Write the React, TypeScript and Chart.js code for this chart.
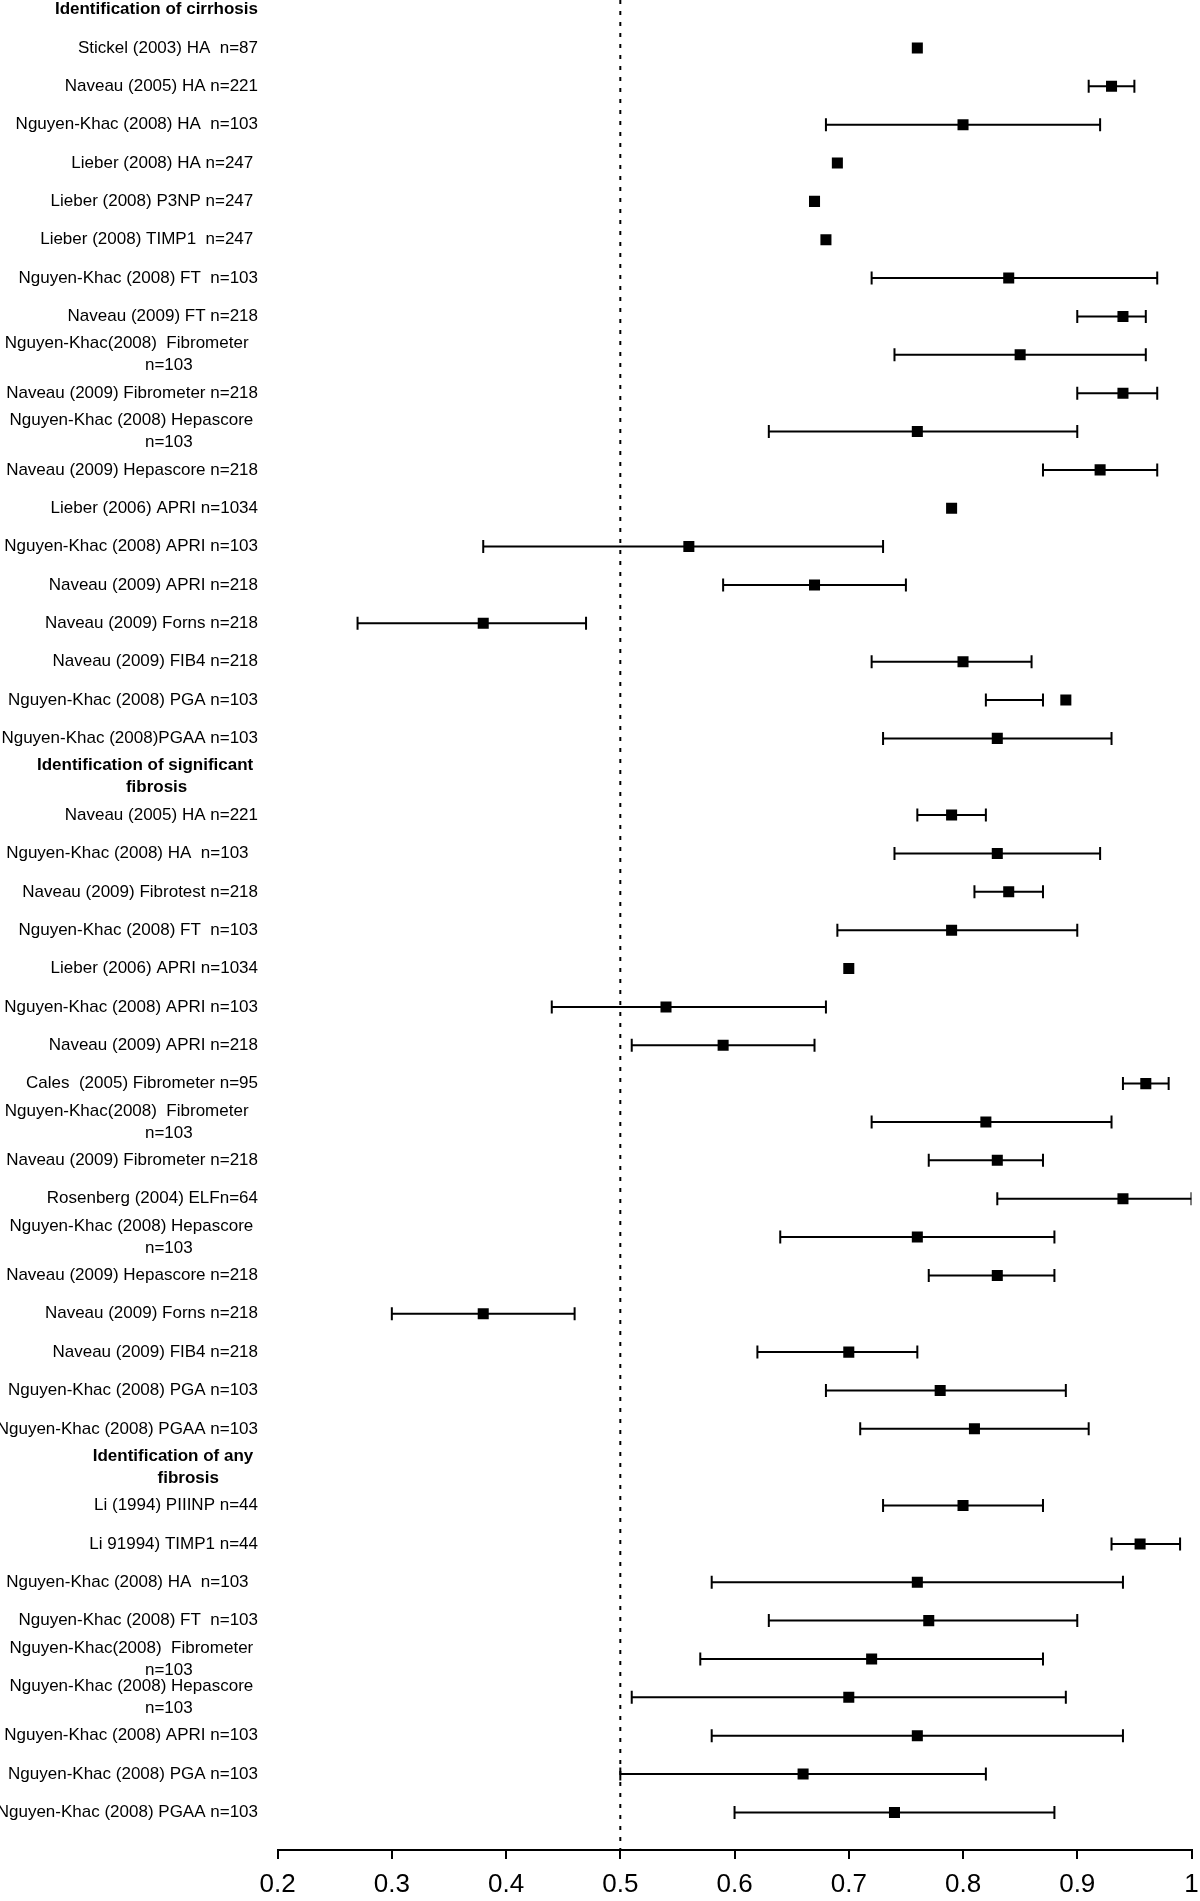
import React, { useEffect, useRef } from "react";
import { Chart, registerables } from "chart.js";

Chart.register(...registerables);

// ---------- data ----------
const LABELS: string[] = [
  "Identification of cirrhosis",
  "Stickel (2003) HA  n=87",
  "Naveau (2005) HA n=221",
  "Nguyen-Khac (2008) HA  n=103",
  "Lieber (2008) HA n=247 ",
  "Lieber (2008) P3NP n=247 ",
  "Lieber (2008) TIMP1  n=247 ",
  "Nguyen-Khac (2008) FT  n=103",
  "Naveau (2009) FT n=218",
  "Nguyen-Khac(2008)  Fibrometer  \nn=103",
  "Naveau (2009) Fibrometer n=218",
  "Nguyen-Khac (2008) Hepascore \nn=103",
  "Naveau (2009) Hepascore n=218",
  "Lieber (2006) APRI n=1034",
  "Nguyen-Khac (2008) APRI n=103",
  "Naveau (2009) APRI n=218",
  "Naveau (2009) Forns n=218",
  "Naveau (2009) FIB4 n=218",
  "Nguyen-Khac (2008) PGA n=103",
  "Nguyen-Khac (2008)PGAA n=103",
  "Identification of significant \nfibrosis",
  "Naveau (2005) HA n=221",
  "Nguyen-Khac (2008) HA  n=103  ",
  "Naveau (2009) Fibrotest n=218",
  "Nguyen-Khac (2008) FT  n=103",
  "Lieber (2006) APRI n=1034",
  "Nguyen-Khac (2008) APRI n=103",
  "Naveau (2009) APRI n=218",
  "Cales  (2005) Fibrometer n=95",
  "Nguyen-Khac(2008)  Fibrometer  \nn=103",
  "Naveau (2009) Fibrometer n=218",
  "Rosenberg (2004) ELFn=64",
  "Nguyen-Khac (2008) Hepascore \nn=103",
  "Naveau (2009) Hepascore n=218",
  "Naveau (2009) Forns n=218",
  "Naveau (2009) FIB4 n=218",
  "Nguyen-Khac (2008) PGA n=103",
  "Nguyen-Khac (2008) PGAA n=103",
  "Identification of any \nfibrosis",
  "Li (1994) PIIINP n=44",
  "Li 91994) TIMP1 n=44",
  "Nguyen-Khac (2008) HA  n=103  ",
  "Nguyen-Khac (2008) FT  n=103",
  "Nguyen-Khac(2008)  Fibrometer \nn=103",
  "Nguyen-Khac (2008) Hepascore \nn=103",
  "Nguyen-Khac (2008) APRI n=103",
  "Nguyen-Khac (2008) PGA n=103",
  "Nguyen-Khac (2008) PGAA n=103",
];

const HEADER_ROWS: number[] = [0, 20, 38];

// AUROC point estimates (null = section header)
const AUC: (number | null)[] = [
  null, 0.76, 0.93, 0.80, 0.69, 0.67, 0.68, 0.84, 0.94, 0.85,
  0.94, 0.76, 0.92, 0.79, 0.56, 0.67, 0.38, 0.80, 0.89, 0.83,
  null, 0.79, 0.83, 0.84, 0.79, 0.70, 0.54, 0.59, 0.96, 0.82,
  0.83, 0.94, 0.76, 0.83, 0.38, 0.70, 0.78, 0.81,
  null, 0.80, 0.955, 0.76, 0.77, 0.72, 0.70, 0.76, 0.66, 0.74,
];

// 95% CI lower bounds (null = not reported)
const LOWER: (number | null)[] = [
  null, null, 0.91, 0.68, null, null, null, 0.72, 0.90, 0.74,
  0.90, 0.63, 0.87, null, 0.38, 0.59, 0.27, 0.72, 0.82, 0.73,
  null, 0.76, 0.74, 0.81, 0.69, null, 0.44, 0.51, 0.94, 0.72,
  0.77, 0.83, 0.64, 0.77, 0.30, 0.62, 0.68, 0.71,
  null, 0.73, 0.93, 0.58, 0.63, 0.57, 0.51, 0.58, 0.50, 0.60,
];

// 95% CI upper bounds
const UPPER: (number | null)[] = [
  null, null, 0.95, 0.92, null, null, null, 0.97, 0.96, 0.96,
  0.97, 0.90, 0.97, null, 0.73, 0.75, 0.47, 0.86, 0.87, 0.93,
  null, 0.82, 0.92, 0.87, 0.90, null, 0.68, 0.67, 0.98, 0.93,
  0.87, 1.00, 0.88, 0.88, 0.46, 0.76, 0.89, 0.91,
  null, 0.87, 0.99, 0.94, 0.90, 0.87, 0.89, 0.94, 0.82, 0.88,
];

const TICK_VALUES: number[] = [0.2, 0.3, 0.4, 0.5, 0.6, 0.7, 0.8, 0.9, 1.0];
const TICK_LABELS: string[] = ["0.2", "0.3", "0.4", "0.5", "0.6", "0.7", "0.8", "0.9", "1"];
const REFERENCE_VALUE = 0.5;

// ---------- layout / style ----------
const FONT = '"Liberation Sans", Arial, Helvetica, sans-serif';
const LABEL_RIGHT = 258;
const LINE2_RIGHT: Record<number, number> = {
  9: 192.7, 11: 192.7, 20: 187.3, 29: 192.7, 32: 192.7, 38: 219, 43: 192.7, 44: 192.7,
};
const Y_MIN = -0.25;
const Y_MAX = 47.98;

const rowLabelPlugin = {
  id: "rowLabels",
  afterDraw(chart: any) {
    const ctx = chart.ctx as CanvasRenderingContext2D;
    const yScale = chart.scales.y;
    ctx.save();
    ctx.fillStyle = "#000";
    ctx.textBaseline = "middle";
    ctx.textAlign = "right";
    LABELS.forEach((lab, i) => {
      const bold = HEADER_ROWS.includes(i);
      ctx.font = `${bold ? "bold " : ""}17px ${FONT}`;
      const yc = yScale.getPixelForValue(i);
      const lines = lab.split("\n");
      if (lines.length === 1) {
        ctx.fillText(lines[0], LABEL_RIGHT, yc);
      } else {
        ctx.fillText(lines[0], LABEL_RIGHT, yc - 11);
        ctx.fillText(lines[1], LINE2_RIGHT[i] ?? LABEL_RIGHT, yc + 11);
      }
    });
    ctx.restore();
  },
};

export default function App() {
  const canvasRef = useRef<HTMLCanvasElement | null>(null);

  useEffect(() => {
    if (!canvasRef.current) return;

    const points: { x: number; y: number }[] = [];
    const ciSegments: { x: number; y: number }[] = [];
    AUC.forEach((v, i) => {
      if (v !== null) points.push({ x: v, y: i });
      const lo = LOWER[i];
      const hi = UPPER[i];
      if (lo !== null && hi !== null) {
        ciSegments.push({ x: lo, y: i }, { x: hi, y: i }, { x: NaN, y: NaN });
      }
    });

    const chart = new Chart(canvasRef.current, {
      type: "scatter",
      data: {
        datasets: [
          {
            label: "reference",
            data: [
              { x: REFERENCE_VALUE, y: Y_MIN },
              { x: REFERENCE_VALUE, y: Y_MAX },
            ],
            showLine: true,
            borderColor: "#000",
            borderWidth: 2,
            borderDash: [4, 7],
            pointRadius: 0,
            order: 3,
          },
          {
            label: "CI",
            data: ciSegments,
            showLine: true,
            spanGaps: false,
            borderColor: "#000",
            borderWidth: 2,
            pointStyle: "line",
            rotation: 90,
            pointRadius: 6.5,
            pointBorderWidth: 2,
            pointBorderColor: "#000",
            order: 2,
          } as any,
          {
            label: "AUROC",
            data: points,
            pointStyle: "rect",
            pointRadius: 7.8,
            pointBackgroundColor: "#000",
            pointBorderWidth: 0,
            order: 1,
          },
        ],
      },
      options: {
        responsive: false,
        animation: false,
        events: [],
        layout: { autoPadding: false, padding: { left: 277.6, right: 8.5, top: 0, bottom: 0 } },
        plugins: {
          legend: { display: false },
          tooltip: { enabled: false },
        },
        scales: {
          x: {
            type: "linear",
            position: "bottom",
            min: 0.2,
            max: 1.0,
            afterBuildTicks: (scale: any) => {
              scale.ticks = TICK_VALUES.map((v) => ({ value: v }));
            },
            afterFit: (scale: any) => {
              scale.height = 51;
              scale.paddingLeft = 0;
              scale.paddingRight = 0;
            },
            ticks: {
              autoSkip: false,
              maxRotation: 0,
              color: "#000",
              padding: 10,
              font: { family: FONT, size: 26 },
              callback: (_v: any, idx: number) => TICK_LABELS[idx],
            },
            grid: {
              drawOnChartArea: false,
              drawTicks: true,
              tickLength: 9,
              color: "#000",
              lineWidth: 2,
            },
            border: { display: true, color: "#000", width: 2 },
          },
          y: {
            type: "linear",
            display: false,
            reverse: true,
            min: Y_MIN,
            max: Y_MAX,
          },
        },
      },
      plugins: [rowLabelPlugin],
    });

    return () => chart.destroy();
  }, []);

  return (
    <div style={{ position: "absolute", left: 0, top: 0, width: 1200, height: 1901, background: "#fff" }}>
      <canvas ref={canvasRef} width={1200} height={1901} style={{ width: 1200, height: 1901, display: "block" }} />
    </div>
  );
}
